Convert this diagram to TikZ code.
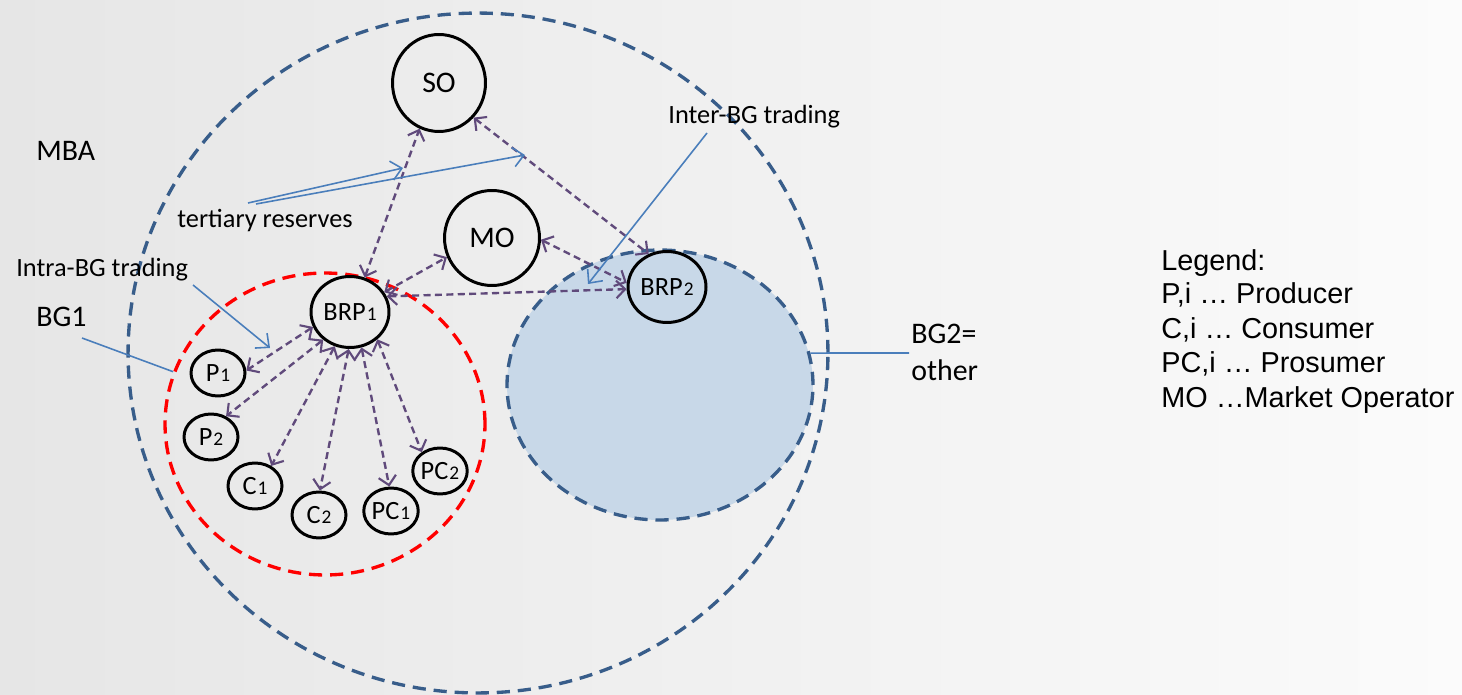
\documentclass[tikz,border=0pt]{standalone}
\usepackage{fontspec}
\setmainfont{Carlito}
\newfontfamily\legendfont{Liberation Sans}
\usetikzlibrary{shapes.geometric,arrows.meta}

\definecolor{mbablue}{RGB}{56,93,138}
\definecolor{bgfill}{RGB}{200,216,232}
\definecolor{flow}{RGB}{96,74,123}
\definecolor{note}{RGB}{74,126,187}
\definecolor{bgleft}{RGB}{230,230,230}
\definecolor{bgmid}{RGB}{247,247,247}
\definecolor{bgright}{RGB}{251,251,251}

% small index digit after a role name (BRP1, P1, ...)
\newcommand\idx[1]{\kern0.6pt\raisebox{-0.4pt}{\fontsize{11}{11}\selectfont #1}}

\begin{document}
\begin{tikzpicture}[x=0.02cm,y=-0.02cm,
  actor/.style={draw=black,line width=1.7pt,ellipse,inner sep=0pt,
    font=\fontsize{15}{17}\selectfont},
  bigactor/.style={actor,font=\fontsize{17}{19}\selectfont},
  small/.style={actor,minimum width=1.08cm,minimum height=0.92cm},
  brp/.style={actor,minimum width=1.56cm,minimum height=1.42cm},
  area/.style={ellipse,inner sep=0pt,line width=1.9pt,dash pattern=on 7.5pt off 4.5pt},
  flowarr/.style={draw=flow,line width=1.35pt,dash pattern=on 4pt off 2.5pt,
    {Straight Barb[length=5pt,width=10pt,line width=1.2pt]}-{Straight Barb[length=5pt,width=10pt,line width=1.2pt]}},
  notearr/.style={draw=note,line width=0.9pt,-{Straight Barb[length=6pt,width=11pt]}},
  noteline/.style={draw=note,line width=0.9pt},
  lbl/.style={inner sep=0pt,anchor=base west,font=\fontsize{15}{18}\selectfont},
  biglbl/.style={lbl,font=\fontsize{17}{20}\selectfont},
  leg/.style={inner sep=0pt,anchor=base west,font=\legendfont\fontsize{16.4}{19}\selectfont}]

\useasboundingbox (0,0) rectangle (1462,695);
\shade[left color=bgleft,middle color=bgmid,right color=bgright] (0,0) rectangle (1462,695);

% market balance area and the two balance groups
\node[area,draw=mbablue,minimum width=14cm,minimum height=13.6cm] (mba) at (478,353) {};
\node[area,draw=mbablue,fill=bgfill,minimum width=6.12cm,minimum height=5.4cm] (bg2) at (660,385) {};
\node[area,draw=red,minimum width=6.4cm,minimum height=6.04cm] (bg1) at (325,424) {};

% actors
\node[bigactor,minimum width=1.86cm,minimum height=1.94cm] (so) at (439,83) {SO};
\node[bigactor,minimum width=1.9cm,minimum height=1.9cm] (mo) at (492,238) {MO};
\node[brp] (brp1) at (350,312) {BRP\idx{1}};
\node[brp] (brp2) at (667,287) {BRP\idx{2}};
\node[small] (p1) at (218,373) {P\idx{1}};
\node[small] (p2) at (211,437) {P\idx{2}};
\node[small] (c1) at (255,486) {C\idx{1}};
\node[small] (c2) at (319,515) {C\idx{2}};
\node[small] (pc1) at (391,511) {PC\idx{1}};
\node[small] (pc2) at (440,471) {PC\idx{2}};

% exchanges
\draw[flowarr] (brp1.67) -- (so.247);
\draw[flowarr] (so.315) -- (brp2.119);
\draw[flowarr] (brp1.30) -- (mo.203);
\draw[flowarr] (mo.358) -- (brp2.174);
\draw[flowarr] (brp1.23) -- (brp2.183);
\draw[flowarr] (brp1.202) -- (p1.5);
\draw[flowarr] (brp1.226) -- (p2.54);
\draw[flowarr] (brp1.246) -- (c1.51);
\draw[flowarr] (brp1.268) -- (c2.88);
\draw[flowarr] (brp1.288) -- (pc1.94);
\draw[flowarr] (brp1.315) -- (pc2.134);

% labels
\node[biglbl] (mbaLbl) at (36,161) {MBA};
\node[lbl] (terLbl) at (177,228) {tertiary reserves};
\node[lbl] (intraLbl) at (16,277) {Intra-BG trading};
\node[biglbl] (bg1Lbl) at (36,327) {BG1};
\node[lbl] (interLbl) at (668,124) {Inter-BG trading};
\node[biglbl] (bg2Lbl) at (911,344) {BG2=};
\node[biglbl] (otherLbl) at (911,380) {other};

% label pointers
\coordinate (terA) at (248,203);
\coordinate (terB) at (256,204);
\coordinate (terTipA) at (403,168);
\coordinate (terTipB) at (525,155);
\draw[notearr] (terA) -- (terTipA);
\draw[notearr] (terB) -- (terTipB);
\coordinate (intraA) at (193,285);
\coordinate (intraTip) at (270,348);
\draw[notearr] (intraA) -- (intraTip);
\coordinate (bg1A) at (82,338);
\draw[noteline] (bg1A) -- (bg1.161);
\coordinate (interA) at (707,133);
\coordinate (interTip) at (588,284);
\draw[notearr] (interA) -- (interTip);
\coordinate (bg2A) at (909,353);
\draw[noteline] (bg2A) -- (bg2.12);

% legend
\node[leg] (leg1) at (1161,271) {Legend:};
\node[leg] (leg2) at (1161,304) {P,i … Producer};
\node[leg] (leg3) at (1161,338) {C,i … Consumer};
\node[leg] (leg4) at (1161,373) {PC,i … Prosumer};
\node[leg] (leg5) at (1161,407) {MO …Market Operator};
\end{tikzpicture}
\end{document}
